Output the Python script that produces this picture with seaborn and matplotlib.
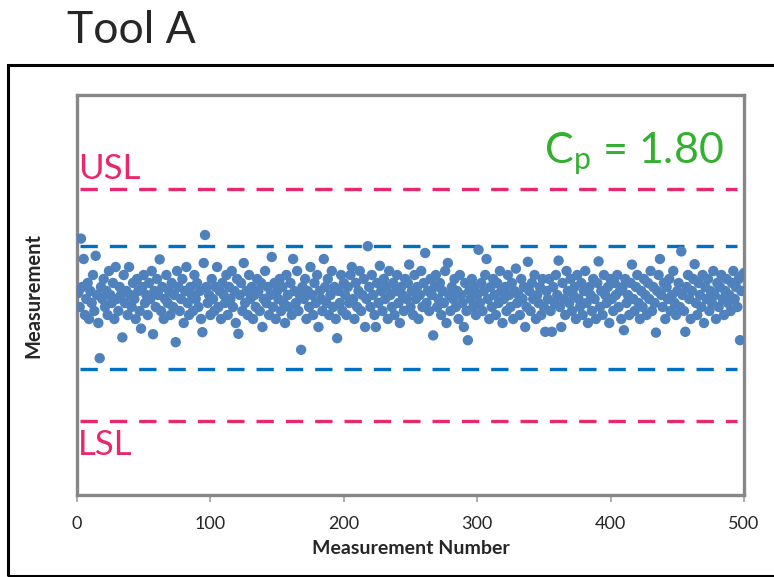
#set up modules
import numpy as np
import pandas as pd
import matplotlib
matplotlib.use("Agg")
import matplotlib.pyplot as plt
from matplotlib.patches import Rectangle
import seaborn as sns

measurements = [
    50.5, 47, 64.1, 52, 59, 45, 49, 53, 44, 51, 48, 55, 46, 59.8, 50, 43, 34.2, 52, 49, 54,
    47, 51, 45, 56, 50, 48, 53, 44, 57, 49, 46, 52, 50, 39.4, 55, 48, 51, 45, 57, 50,
    47, 53, 49, 44, 54, 51, 46, 41.6, 52, 55,
    48, 50, 45, 53, 49, 56, 40.2, 51, 47, 54, 50, 58.9, 46, 52, 44, 49, 55, 48, 51, 45,
    53, 47, 50, 38.2, 56, 52, 46, 49, 54, 43, 51, 57, 48, 45, 52, 50, 46, 55, 49, 53,
    47, 51, 44, 40.7, 58, 65, 52, 48, 50, 45,
    54, 49, 46, 52, 57, 47, 51, 44, 53, 50, 48, 55, 45, 52, 49, 56, 47, 51, 43, 54,
    40.3, 50, 53, 46, 58, 48, 51, 45, 55, 49, 52, 44, 50, 47, 54, 51, 46, 53, 42, 49,
    56, 48, 52, 45, 50, 59.5, 47, 53, 44, 51,
    49, 54, 46, 52, 48, 43, 55, 50, 47, 53, 45, 59, 51, 48, 56, 46, 50, 36.3, 52, 49,
    54, 44, 51, 47, 57, 50, 45, 53, 48, 55, 42, 51, 49, 46, 59, 52, 48, 54, 45, 50,
    56, 47, 52, 44, 39.2, 51, 48, 55, 46, 53,
    50, 45, 52, 48, 55, 57, 49, 44, 53, 47, 51, 56, 46, 50, 54, 42, 49, 62.2, 52, 47,
    55, 50, 45, 42, 53, 48, 57.3, 51, 46, 54, 49, 52, 44, 56, 50, 47, 53, 45, 51, 55,
    48, 43, 52, 50, 46, 54, 49, 53, 57.6, 47,
    51, 45, 55, 49, 52, 44, 50, 56, 47, 53, 60.5, 48, 51, 46, 54, 50, 39.9, 52, 55, 47,
    49, 53, 45, 51, 48, 56, 43, 58, 50, 46, 52, 49, 54, 47, 51, 44, 55, 50, 48, 42,
    53, 46, 38.7, 51, 49, 54, 47, 52, 45, 50,
    61.3, 48, 53, 46, 51, 55, 59, 49, 44, 52, 47, 54, 50, 45, 53, 48, 56, 51, 43, 49,
    52, 46, 55, 50, 47, 53, 44, 51, 56.6, 48, 50, 45, 54, 49, 52, 42, 47, 58.3, 51, 46,
    53, 49, 55, 44, 50, 48, 52, 45, 54, 47,
    40.8, 51, 49, 54, 46, 40.8, 52, 48, 55, 50, 58.6, 47, 42, 53, 49, 45, 56, 51, 48, 54,
    46, 50, 52, 44, 55, 49, 47, 53, 45, 51, 56, 48, 43, 52, 50, 46, 54, 49, 44, 53,
    58.4, 47, 51, 45, 55, 50, 48, 52, 43, 54,
    49, 46, 53, 50, 55, 47, 51, 44, 52, 41.2, 54, 48, 50, 45, 53, 57.6, 49, 46, 52, 55,
    48, 44, 51, 47, 54, 50, 45, 53, 49, 56, 46, 52, 48, 40.6, 51, 55, 59, 50, 47, 53,
    44, 52, 49, 54, 46, 50, 56, 48, 45, 51,
    53, 47, 60.9, 50, 46, 40.8, 52, 55, 49, 44, 51, 54, 57.7, 48, 45, 53, 50, 47, 55, 43,
    52, 49, 54, 46, 51, 48, 56, 50, 44, 53, 47, 52, 55, 49, 45, 51, 54, 48, 50, 46,
    53, 56, 49, 52, 47, 54, 38.7, 51, 55, 55.5,
]
measurement_number = list(range(1, len(measurements) + 1))

#limits
usl = 76.5
lsl = 18.5
ucl = 62.3
lcl = 31.5
cp_text = "1.80"
x_ticks = [0, 100, 200, 300, 400, 500]

df = pd.DataFrame({"n": measurement_number, "value": measurements})

sns.set_style("white")
plt.rcParams["font.family"] = ["Lato", "DejaVu Sans"]
plt.rcParams["mathtext.fontset"] = "custom"
plt.rcParams["mathtext.rm"] = "Lato"
plt.rcParams["mathtext.it"] = "Lato"

fig = plt.figure(figsize=(7.74, 5.77), dpi=100)
ax = fig.add_axes([77 / 774, 82 / 577, 667 / 774, 400 / 577])

sns.scatterplot(data=df, x="n", y="value", ax=ax,
                color="#4F81BD", s=56, edgecolor="none", zorder=3)

pink = "#E8286E"
blue = "#0070C0"
for y in (usl, lsl):
    ax.axhline(y, xmin=0.005, xmax=0.99, color=pink, lw=2.4, dashes=(5.2, 3.6))
for y in (ucl, lcl):
    ax.axhline(y, xmin=0.005, xmax=0.99, color=blue, lw=2.4, dashes=(5.2, 3.6))

ax.text(1, usl + 1.0, "USL", color=pink, fontsize=25, ha="left", va="bottom")
ax.text(1, lsl - 2.0, "LSL", color=pink, fontsize=25, ha="left", va="top")
ax.text(0.97, 0.795, r"C$_\mathrm{p}$ = " + cp_text, transform=ax.transAxes,
        color="#33B02F", fontsize=31, ha="right", va="bottom")

ax.set_xlim(0, 500)
ax.set_ylim(0, 100)
ax.set_xticks(x_ticks)
ax.set_yticks([])
ax.tick_params(axis="x", direction="out", length=5, width=1.2, color="#A0A0A0",
               labelsize=13, pad=10, bottom=True)
for sp in ax.spines.values():
    sp.set_visible(True)
    sp.set_color("#878787")
    sp.set_linewidth(2.4)
ax.set_xlabel("Measurement Number", fontsize=14, fontweight="bold", labelpad=6)
ax.set_ylabel("Measurement", fontsize=14.5, fontweight="bold", labelpad=24)

#outer black frame and title
fig.patches.append(Rectangle((8 / 774, 1 / 577), 1.0, (577 - 66) / 577,
                             transform=fig.transFigure, fill=False,
                             edgecolor="black", linewidth=2.2))
fig.text(67 / 774, 1 - 10 / 577, "Tool A", fontsize=32, ha="left", va="top")

plt.savefig("out.png", dpi=100)
